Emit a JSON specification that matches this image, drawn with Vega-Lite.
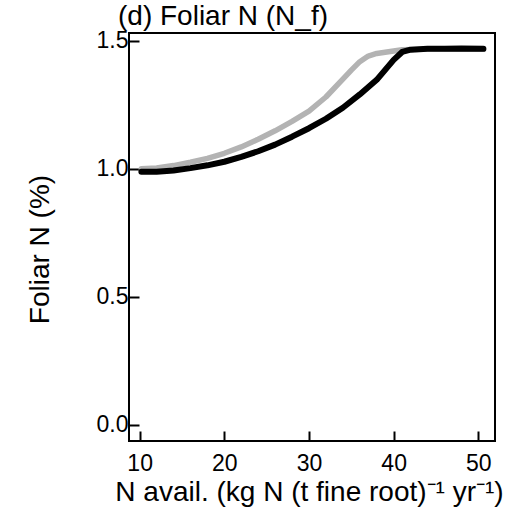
{
  "$schema": "https://vega.github.io/schema/vega-lite/v6.json",
  "autosize": "none",
  "padding": {"left": 129, "top": 33, "right": 26, "bottom": 70},
  "width": 366,
  "height": 408,
  "background": "white",
  "config": {
    "font": "Liberation Sans",
    "view": {"stroke": "black", "strokeWidth": 2},
    "axis": {"grid": false, "domain": false, "labelFont": "Liberation Sans", "titleFont": "Liberation Sans", "labelColor": "black", "titleColor": "black", "tickColor": "black", "tickWidth": 2, "tickSize": -10, "labelFontSize": 23, "titleFontSize": 28, "titleFontWeight": "normal"}
  },
  "title": {"text": "(d) Foliar N (N_f)", "anchor": "start", "frame": "group", "dx": -11, "dy": 18, "offset": -5, "baseline": "alphabetic", "fontSize": 28, "fontWeight": "normal", "font": "Liberation Sans", "color": "black"},
  "data": {"values": [
    {"s": "gray", "x": 10.2, "y": 1.000},
    {"s": "gray", "x": 12, "y": 1.003},
    {"s": "gray", "x": 14, "y": 1.012},
    {"s": "gray", "x": 16, "y": 1.025},
    {"s": "gray", "x": 18, "y": 1.040},
    {"s": "gray", "x": 20, "y": 1.060},
    {"s": "gray", "x": 22, "y": 1.085},
    {"s": "gray", "x": 24, "y": 1.115},
    {"s": "gray", "x": 26, "y": 1.148},
    {"s": "gray", "x": 28, "y": 1.185},
    {"s": "gray", "x": 30, "y": 1.225},
    {"s": "gray", "x": 32, "y": 1.280},
    {"s": "gray", "x": 34, "y": 1.350},
    {"s": "gray", "x": 35, "y": 1.385},
    {"s": "gray", "x": 36, "y": 1.418},
    {"s": "gray", "x": 37, "y": 1.440},
    {"s": "gray", "x": 38, "y": 1.450},
    {"s": "gray", "x": 40, "y": 1.460},
    {"s": "gray", "x": 41, "y": 1.465},
    {"s": "gray", "x": 44, "y": 1.467},
    {"s": "gray", "x": 50.5, "y": 1.467},
    {"s": "black", "x": 10.2, "y": 0.988},
    {"s": "black", "x": 12, "y": 0.988},
    {"s": "black", "x": 14, "y": 0.993},
    {"s": "black", "x": 16, "y": 1.002},
    {"s": "black", "x": 18, "y": 1.013},
    {"s": "black", "x": 20, "y": 1.027},
    {"s": "black", "x": 22, "y": 1.046},
    {"s": "black", "x": 24, "y": 1.068},
    {"s": "black", "x": 26, "y": 1.094},
    {"s": "black", "x": 28, "y": 1.125},
    {"s": "black", "x": 30, "y": 1.158},
    {"s": "black", "x": 32, "y": 1.195},
    {"s": "black", "x": 34, "y": 1.238},
    {"s": "black", "x": 36, "y": 1.290},
    {"s": "black", "x": 38, "y": 1.347},
    {"s": "black", "x": 40, "y": 1.425},
    {"s": "black", "x": 41, "y": 1.456},
    {"s": "black", "x": 42, "y": 1.465},
    {"s": "black", "x": 44, "y": 1.468},
    {"s": "black", "x": 46, "y": 1.468},
    {"s": "black", "x": 48, "y": 1.469},
    {"s": "black", "x": 50.6, "y": 1.468}
  ]},
  "encoding": {
    "x": {"field": "x", "type": "quantitative", "scale": {"domain": [8.74, 51.97], "nice": false, "zero": false},
      "axis": {"values": [10, 20, 30, 40, 50], "title": "N avail. (kg N (t fine root)⁻¹ yr⁻¹)", "labelPadding": 21, "titleX": 180, "titleY": 59, "titleBaseline": "alphabetic", "titleAnchor": null}},
    "y": {"field": "y", "type": "quantitative", "scale": {"domain": [-0.064, 1.53], "nice": false, "zero": false},
      "axis": {"values": [0, 0.5, 1, 1.5], "format": ".1f", "title": "Foliar N (%)", "labelPadding": 11, "titleX": -89, "titleY": 216, "titleBaseline": "middle", "titleAngle": -90}}
  },
  "layer": [
    {"transform": [{"filter": "datum.s === 'gray'"}], "mark": {"type": "line", "color": "#b3b3b3", "strokeWidth": 5.5, "strokeCap": "round", "strokeJoin": "round"}},
    {"transform": [{"filter": "datum.s === 'black'"}], "mark": {"type": "line", "color": "black", "strokeWidth": 6, "strokeCap": "round", "strokeJoin": "round"}}
  ]
}
